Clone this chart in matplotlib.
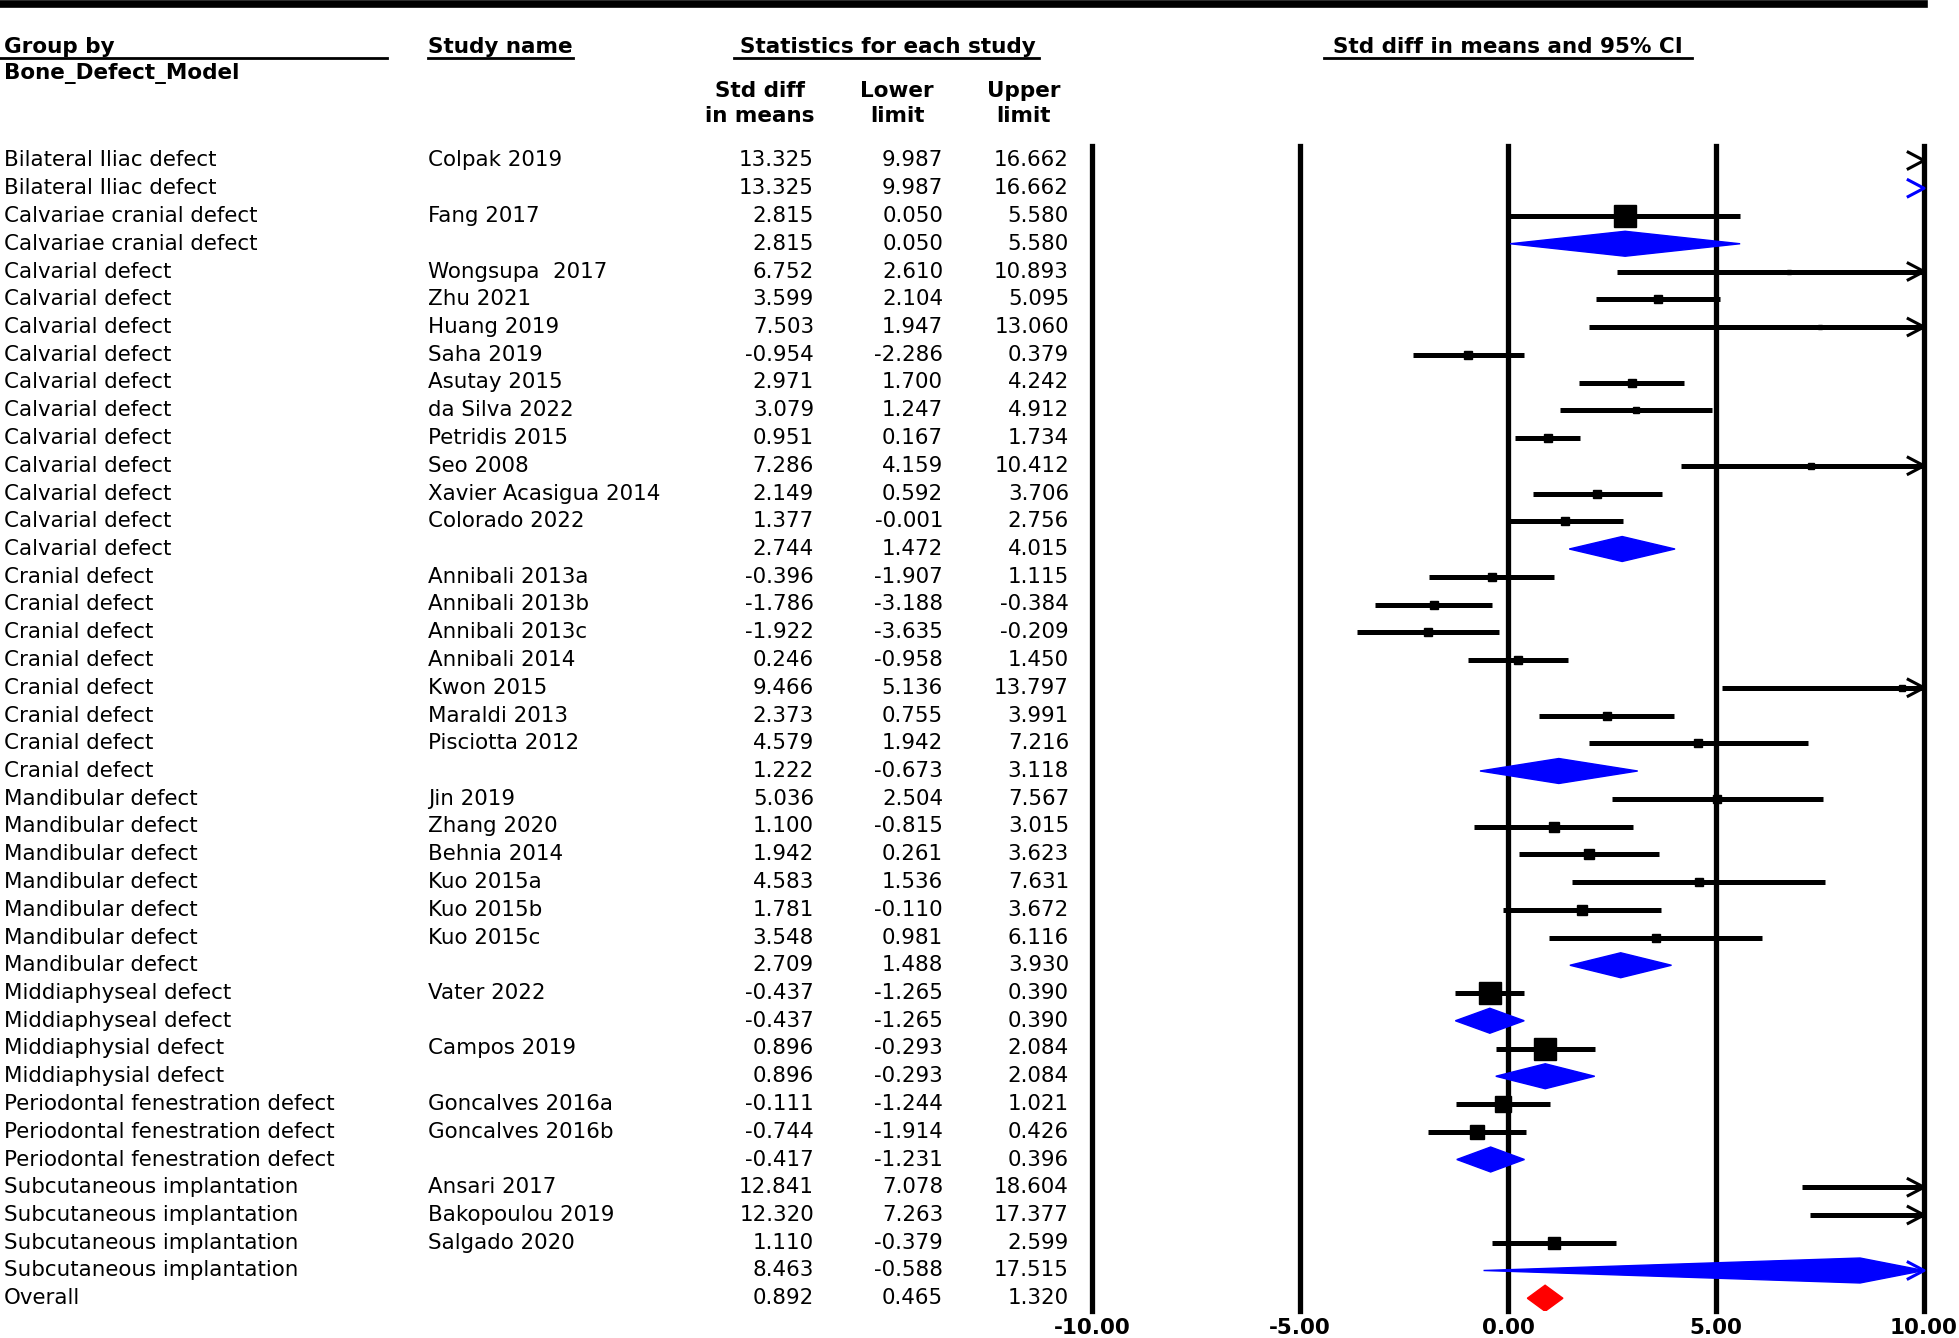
import numpy as np
import matplotlib
matplotlib.use("Agg")
import matplotlib.pyplot as plt
import matplotlib.transforms as mtransforms
from matplotlib.lines import Line2D
from matplotlib.patches import Polygon

plt.rcParams['font.family'] = ['DejaVu Sans']
plt.rcParams['axes.unicode_minus'] = False

# ---- data ----
groups = [
    "Bilateral Iliac defect", "Bilateral Iliac defect",
    "Calvariae cranial defect", "Calvariae cranial defect",
    "Calvarial defect", "Calvarial defect", "Calvarial defect", "Calvarial defect",
    "Calvarial defect", "Calvarial defect", "Calvarial defect", "Calvarial defect",
    "Calvarial defect", "Calvarial defect", "Calvarial defect",
    "Cranial defect", "Cranial defect", "Cranial defect", "Cranial defect",
    "Cranial defect", "Cranial defect", "Cranial defect", "Cranial defect",
    "Mandibular defect", "Mandibular defect", "Mandibular defect", "Mandibular defect",
    "Mandibular defect", "Mandibular defect", "Mandibular defect",
    "Middiaphyseal defect", "Middiaphyseal defect",
    "Middiaphysial defect", "Middiaphysial defect",
    "Periodontal fenestration defect", "Periodontal fenestration defect",
    "Periodontal fenestration defect",
    "Subcutaneous implantation", "Subcutaneous implantation",
    "Subcutaneous implantation", "Subcutaneous implantation",
    "Overall",
]
studies = [
    "Colpak 2019", "",
    "Fang 2017", "",
    "Wongsupa  2017", "Zhu 2021", "Huang 2019", "Saha 2019", "Asutay 2015",
    "da Silva 2022", "Petridis 2015", "Seo 2008", "Xavier Acasigua 2014",
    "Colorado 2022", "",
    "Annibali 2013a", "Annibali 2013b", "Annibali 2013c", "Annibali 2014",
    "Kwon 2015", "Maraldi 2013", "Pisciotta 2012", "",
    "Jin 2019", "Zhang 2020", "Behnia 2014", "Kuo 2015a", "Kuo 2015b",
    "Kuo 2015c", "",
    "Vater 2022", "",
    "Campos 2019", "",
    "Goncalves 2016a", "Goncalves 2016b", "",
    "Ansari 2017", "Bakopoulou 2019", "Salgado 2020", "",
    "",
]
kinds = (["study", "sub"] * 2 + ["study"] * 10 + ["sub"] + ["study"] * 7 + ["sub"]
         + ["study"] * 6 + ["sub"] + ["study", "sub"] * 2 + ["study"] * 2 + ["sub"]
         + ["study"] * 3 + ["sub", "overall"])
effect = [13.325, 13.325, 2.815, 2.815,
          6.752, 3.599, 7.503, -0.954, 2.971, 3.079, 0.951, 7.286, 2.149, 1.377, 2.744,
          -0.396, -1.786, -1.922, 0.246, 9.466, 2.373, 4.579, 1.222,
          5.036, 1.100, 1.942, 4.583, 1.781, 3.548, 2.709,
          -0.437, -0.437, 0.896, 0.896,
          -0.111, -0.744, -0.417,
          12.841, 12.320, 1.110, 8.463, 0.892]
lower = [9.987, 9.987, 0.050, 0.050,
         2.610, 2.104, 1.947, -2.286, 1.700, 1.247, 0.167, 4.159, 0.592, -0.001, 1.472,
         -1.907, -3.188, -3.635, -0.958, 5.136, 0.755, 1.942, -0.673,
         2.504, -0.815, 0.261, 1.536, -0.110, 0.981, 1.488,
         -1.265, -1.265, -0.293, -0.293,
         -1.244, -1.914, -1.231,
         7.078, 7.263, -0.379, -0.588, 0.465]
upper = [16.662, 16.662, 5.580, 5.580,
         10.893, 5.095, 13.060, 0.379, 4.242, 4.912, 1.734, 10.412, 3.706, 2.756, 4.015,
         1.115, -0.384, -0.209, 1.450, 13.797, 3.991, 7.216, 3.118,
         7.567, 3.015, 3.623, 7.631, 3.672, 6.116, 3.930,
         0.390, 0.390, 2.084, 2.084,
         1.021, 0.426, 0.396,
         18.604, 17.377, 2.599, 17.515, 1.320]
# relative weight (%) of each study inside its subgroup, 0 for summary rows
weights = [100, 0, 100, 0,
           4, 11, 3, 12, 12, 10, 15, 6, 11, 12, 0,
           16, 16, 15, 17, 7, 15, 12, 0,
           14, 18, 21, 12, 18, 15, 0,
           100, 0, 100, 0,
           51, 49, 0,
           32, 33, 35, 0, 0]
ticks = [-10, -5, 0, 5, 10]

W, H = 1959, 1338
fig = plt.figure(figsize=(W / 100, H / 100), dpi=100)

def fx(px):
    return px / W

def fy(py):
    return 1 - py / H

# forest panel: rows are 27.75 px apart, first row at 160 px
row0, step = 160.5, 27.75
top_px, bot_px = 146, 1311
ax = fig.add_axes([fx(1092), fy(bot_px), fx(1924) - fx(1092), (bot_px - top_px) / H])
ax.set_xlim(-10, 10)
ax.set_ylim((bot_px - row0) / step, (top_px - row0) / step)
for s in ax.spines.values():
    s.set_visible(False)
ax.set_yticks([])
ax.set_xticks(ticks)
ax.set_xticklabels([f"{t:.2f}" for t in ticks], fontsize=15.5, fontweight='bold')
ax.tick_params(axis='x', length=0, pad=5)

for t in ticks:
    ax.axvline(t, color='black', lw=3.8, clip_on=False, zorder=1)

def chevron(y, color):
    ax.plot([9.62, 10, 9.62], [y - 0.3, y, y + 0.3], color=color, lw=2.2,
            clip_on=False, zorder=4)

for i, k in enumerate(kinds):
    lo, hi, m = lower[i], upper[i], effect[i]
    lo_c, hi_c = max(lo, -10), min(hi, 10)
    if k == "study":
        if lo_c < hi_c:
            ax.plot([lo_c, hi_c], [i, i], color='black', lw=3.6,
                    solid_capstyle='butt', zorder=3)
        if -10 <= m <= 10:
            ax.plot(m, i, 's', color='black', ms=15.3 * np.sqrt(weights[i] / 100),
                    zorder=4)
        if hi > 10:
            chevron(i, 'black')
    else:
        col = 'blue' if k == "sub" else 'red'
        h = 0.45 if k == "sub" else 0.47
        if m <= 10:
            ax.add_patch(Polygon([(lo_c, i), (m, i - h), (hi_c, i), (m, i + h)],
                                 closed=True, facecolor=col, edgecolor=col,
                                 lw=1, zorder=3))
        if hi > 10:
            chevron(i, col)

# ---- text columns ----
tr = mtransforms.blended_transform_factory(fig.transFigure, ax.transData)
fs = 15.4
for i in range(len(groups)):
    ax.text(fx(4), i, groups[i], transform=tr, va='center', ha='left', fontsize=fs)
    ax.text(fx(428), i, studies[i], transform=tr, va='center', ha='left', fontsize=fs)
    ax.text(fx(814), i, f"{effect[i]:.3f}", transform=tr, va='center', ha='right', fontsize=fs)
    ax.text(fx(943), i, f"{lower[i]:.3f}", transform=tr, va='center', ha='right', fontsize=fs)
    ax.text(fx(1069), i, f"{upper[i]:.3f}", transform=tr, va='center', ha='right', fontsize=fs)

# ---- headers ----
fig.add_artist(Line2D([0, fx(1924)], [fy(4), fy(4)], color='black', lw=5.5))

hdr = dict(fontsize=15.5, fontweight='bold', va='center')
fig.text(fx(4), fy(47), "Group by", ha='left', **hdr)
fig.text(fx(4), fy(73), "Bone_Defect_Model", ha='left', **hdr)
fig.text(fx(428), fy(47), "Study name", ha='left', **hdr)
fig.text(fx(888), fy(47), "Statistics for each study", ha='center', **hdr)
fig.text(fx(1508), fy(47), "Std diff in means and 95% CI", ha='center', **hdr)
for (a, b) in [(0, 387), (428, 573), (734, 1039), (1324, 1692)]:
    fig.add_artist(Line2D([fx(a), fx(b)], [fy(58), fy(58)], color='black', lw=2))

sub_hdr = [("Std diff", "in means", 760), ("Lower", "limit", 897), ("Upper", "limit", 1024)]
for l1, l2, x in sub_hdr:
    fig.text(fx(x), fy(91), l1, ha='center', **hdr)
    fig.text(fx(x), fy(116), l2, ha='center', **hdr)

fig.savefig("out.png", dpi=100)
